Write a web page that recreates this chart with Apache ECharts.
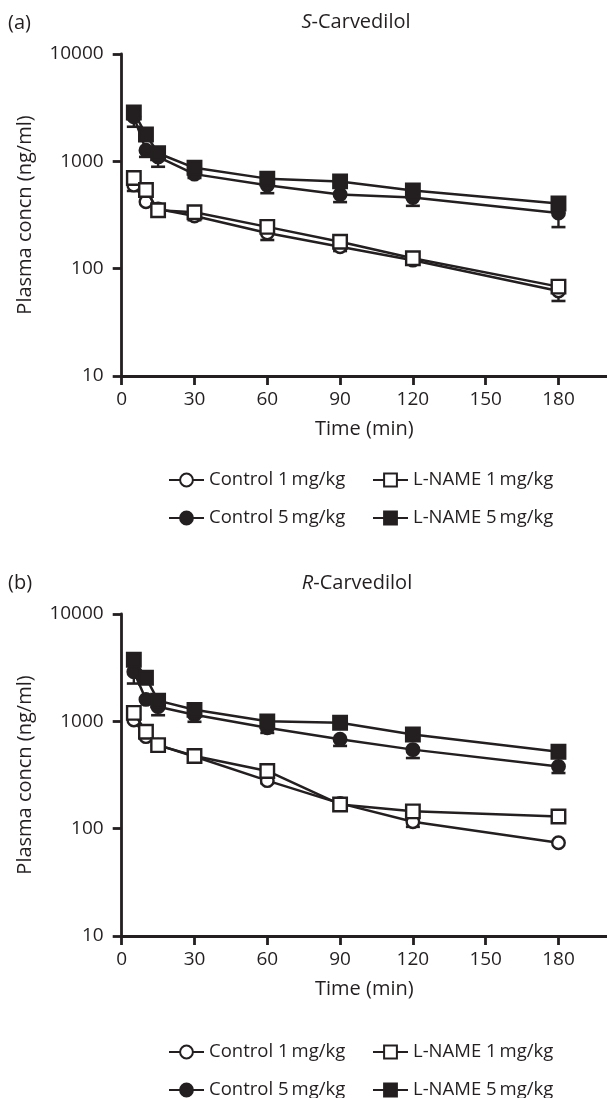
<!DOCTYPE html>
<html><head><meta charset="utf-8">
<script src="https://cdn.jsdelivr.net/npm/echarts@6/dist/echarts.min.js"></script>
<style>html,body{margin:0;padding:0;background:#fff}#c{width:607px;height:1098px}</style>
</head><body><div id="c"></div><script>
// ---- data ----
const times = [5, 10, 15, 30, 60, 90, 120, 180];
const seriesNames = ['Control 1\u2009mg/kg', 'L-NAME 1\u2009mg/kg', 'Control 5\u2009mg/kg', 'L-NAME 5\u2009mg/kg'];
const xTickValues = [0, 30, 60, 90, 120, 150, 180];
const yTickLabels = [10, 100, 1000, 10000];
const yMinorTicks = [20,30,40,50,60,70,80,90,200,300,400,500,600,700,800,900,2000,3000,4000,5000,6000,7000,8000,9000];

// S-Carvedilol (panel a)
const sControl1 = [600, 420, 360, 310, 215, 160, 120, 62];
const sControl1Lo = [530, null, null, 283, 185, 146, null, 50];
const sLname1 = [700, 540, 350, 335, 245, 178, 125, 68];
const sLname1Lo = [null, null, null, null, null, null, null, null];
const sControl5 = [2600, 1270, 1100, 760, 600, 490, 460, 330];
const sControl5Lo = [2100, 1100, 890, 700, 505, 417, 385, 244];
const sLname5 = [2850, 1780, 1190, 870, 690, 650, 535, 405];
const sLname5Lo = [null, null, null, null, null, null, null, null];

// R-Carvedilol (panel b)
const rControl1 = [1030, 720, 600, 470, 280, 172, 116, 74];
const rControl1Lo = [null, null, null, null, 265, null, 104, null];
const rLname1 = [1200, 800, 600, 475, 345, 168, 145, 130];
const rLname1Lo = [null, null, null, null, null, null, null, null];
const rControl5 = [2900, 1600, 1370, 1150, 870, 680, 545, 380];
const rControl5Lo = [2250, null, 1140, 990, 780, 590, 455, 330];
const rLname5 = [3750, 2550, 1560, 1280, 1000, 970, 755, 520];
const rLname5Lo = [null, null, null, null, null, null, null, null];

// ---- styling ----
const INK = '#231f20';
const FONT = 'Open Sans';
const FS_TICK = 19;
const FS_NAME = 20;
const FS_LEG = 18.5;
const FS_TITLE = 20;

const styles = [
  {symbol: 'circle', size: 12.5, fill: '#fff'},
  {symbol: 'rect', size: 13.5, fill: '#fff'},
  {symbol: 'circle', size: 12.5, fill: INK},
  {symbol: 'rect', size: 13.5, fill: INK}
];

function pairs(arr) { return times.map((t, i) => [t, arr[i]]); }
function errData(vals, los) {
  const out = [];
  times.forEach((t, i) => { if (los[i] != null) out.push([t, vals[i], los[i]]); });
  return out;
}
function renderErr(params, api) {
  const x = api.value(0), v = api.value(1), lo = api.value(2);
  const p1 = api.coord([x, v]);
  const p2 = api.coord([x, lo]);
  return {type: 'group', children: [
    {type: 'line', shape: {x1: p1[0], y1: p1[1], x2: p2[0], y2: p2[1]}, style: {stroke: INK, lineWidth: 2.4}},
    {type: 'line', shape: {x1: p2[0] - 7, y1: p2[1], x2: p2[0] + 7, y2: p2[1]}, style: {stroke: INK, lineWidth: 2.6}}
  ]};
}

const panels = [
  {top: 54, vals: [sControl1, sLname1, sControl5, sLname5], los: [sControl1Lo, sLname1Lo, sControl5Lo, sLname5Lo]},
  {top: 614, vals: [rControl1, rLname1, rControl5, rLname5], los: [rControl1Lo, rLname1Lo, rControl5Lo, rLname5Lo]}
];

const grid = [], xAxis = [], yAxis = [], series = [];
panels.forEach((p, k) => {
  grid.push({left: 121.7, top: p.top, width: 485.3, height: 322});
  xAxis.push({
    type: 'value', gridIndex: k, min: 0, max: 200, interval: 30,
    axisLine: {lineStyle: {color: INK, width: 2.8}},
    axisTick: {length: 9, lineStyle: {color: INK, width: 2.8}, customValues: xTickValues},
    axisLabel: {customValues: xTickValues, fontSize: FS_TICK, fontFamily: FONT, color: INK, margin: 14,
      formatter: v => (v > 180 ? '' : String(v))},
    splitLine: {show: false},
    name: 'Time (min)', nameLocation: 'middle', nameGap: 43,
    nameTextStyle: {fontSize: FS_NAME, fontFamily: FONT, color: INK}
  });
  yAxis.push({
    type: 'log', logBase: 10, gridIndex: k, min: 10, max: 10000,
    axisLine: {lineStyle: {color: INK, width: 2.8}},
    axisTick: {length: 9, lineStyle: {color: INK, width: 2.8}, customValues: yTickLabels},
    axisLabel: {customValues: yTickLabels, fontSize: FS_TICK, fontFamily: FONT, color: INK, margin: 18,
      formatter: v => String(Math.round(v))},
    splitLine: {show: false}, minorTick: {show: false},
    name: 'Plasma concn (ng/ml)', nameLocation: 'middle', nameGap: 86,
    nameTextStyle: {fontSize: FS_NAME, fontFamily: FONT, color: INK}
  });
  yAxis.push({
    type: 'log', logBase: 10, gridIndex: k, min: 10, max: 10000,
    axisLine: {show: false},
    axisTick: {length: 5, lineStyle: {color: INK, width: 2.2}, customValues: yMinorTicks},
    axisLabel: {show: false},
    splitLine: {show: false}
  });
  p.vals.forEach((vals, j) => {
    const ed = errData(vals, p.los[j]);
    if (ed.length) series.push({
      type: 'custom', xAxisIndex: k, yAxisIndex: 2 * k, data: ed, renderItem: renderErr,
      encode: {x: 0, y: [1, 2]}, z: 1, silent: true
    });
  });
  p.vals.forEach((vals, j) => {
    const st = styles[j];
    series.push({
      type: 'line', name: seriesNames[j], xAxisIndex: k, yAxisIndex: 2 * k,
      data: pairs(vals), symbol: st.symbol, symbolSize: st.size, showSymbol: true,
      lineStyle: {color: INK, width: 2.5},
      itemStyle: {color: st.fill, borderColor: INK, borderWidth: 2.4},
      emphasis: {disabled: true}, z: 2 + j
    });
  });
});

const legendRows = [[480, 518], [1052, 1090]];
const legendCols = [168, 372];
const legend = [];
legendRows.forEach(rows => {
  [[0, 0], [1, 1], [2, 0], [3, 1]].forEach(([j, c]) => {
    const r = j < 2 ? 0 : 1;
    legend.push({
      data: [seriesNames[j]], left: legendCols[c], top: rows[r] - 11, padding: 0,
      itemWidth: 35, itemHeight: 16, itemGap: 0, selectedMode: false,
      textStyle: {fontSize: FS_LEG, fontFamily: FONT, color: INK, lineHeight: 22}
    });
  });
});

const tStyle = {
  fontSize: FS_TITLE, fontFamily: FONT, color: INK, fontWeight: 'normal', lineHeight: 24,
  rich: {
    i: {fontStyle: 'italic', fontSize: FS_TITLE, fontFamily: FONT, color: INK, lineHeight: 24},
    n: {fontSize: FS_TITLE, fontFamily: FONT, color: INK, lineHeight: 24}
  }
};
const title = [
  {text: '(a)', left: 8, top: 11, padding: 0, textStyle: tStyle},
  {text: '{i|S}{n|-Carvedilol}', left: 356, top: 10, padding: 0, textAlign: 'center', textStyle: tStyle},
  {text: '(b)', left: 8, top: 571, padding: 0, textStyle: tStyle},
  {text: '{i|R}{n|-Carvedilol}', left: 357, top: 571, padding: 0, textAlign: 'center', textStyle: tStyle}
];

const chart = echarts.init(document.getElementById('c'), null, {renderer: 'canvas'});
chart.setOption({
  animation: false, backgroundColor: '#fff',
  title, grid, xAxis, yAxis, series, legend
});
</script></body></html>
